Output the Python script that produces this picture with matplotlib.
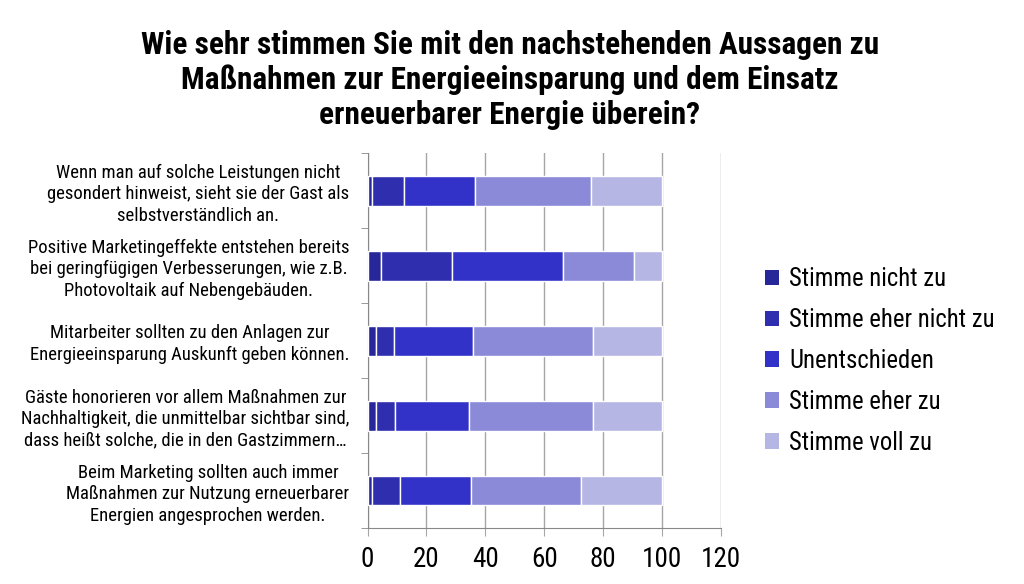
import numpy as np
import matplotlib
matplotlib.use('Agg')
import matplotlib.pyplot as plt
from matplotlib.patches import Patch

plt.rcParams['font.family'] = ['Roboto Condensed', 'DejaVu Sans Condensed', 'Liberation Sans Narrow',
                               'Open Sans Condensed', 'DejaVu Sans']
plt.rcParams['font.stretch'] = 'condensed'

statements = [
    'Wenn man auf solche Leistungen nicht\ngesondert hinweist, sieht sie der Gast als\nselbstverständlich an.',
    'Positive Marketingeffekte entstehen bereits\nbei geringfügigen Verbesserungen, wie z.B.\nPhotovoltaik auf Nebengebäuden.',
    'Mitarbeiter sollten zu den Anlagen zur\nEnergieeinsparung Auskunft geben können.',
    'Gäste honorieren vor allem Maßnahmen zur\nNachhaltigkeit, die unmittelbar sichtbar sind,\ndass heißt solche, die in den Gastzimmern…',
    'Beim Marketing sollten auch immer\nMaßnahmen zur Nutzung erneuerbarer\nEnergien angesprochen werden.',
]
answers = ['Stimme nicht zu', 'Stimme eher nicht zu', 'Unentschieden',
           'Stimme eher zu', 'Stimme voll zu']
# percent per statement, same order as answers
nicht_zu = [1.4, 4.5, 3.0, 3.0, 1.4]
eher_nicht_zu = [11.0, 24.0, 6.0, 6.2, 9.6]
unentschieden = [24.0, 37.9, 26.9, 25.2, 24.1]
eher_zu = [39.6, 24.0, 40.5, 42.0, 37.3]
voll_zu = [24.0, 9.6, 23.6, 23.6, 27.6]
colors = ['#27279a', '#2e2eae', '#3232c8', '#8a8ad8', '#b6b6e4']

series = [nicht_zu, eher_nicht_zu, unentschieden, eher_zu, voll_zu]

fig = plt.figure(figsize=(10.24, 5.84), dpi=100)
ax = fig.add_axes([0.359, 0.0959, 0.345, 0.642])

y = np.arange(len(statements))
left = np.zeros(len(statements))
for vals, col, name in zip(series, colors, answers):
    ax.barh(y, vals, left=left, height=0.4, color=col, edgecolor='white',
            linewidth=1, label=name, zorder=3)
    left += np.array(vals)

ax.set_xlim(0, 120)
ax.set_ylim(len(statements) - 0.5, -0.5)
ax.set_xticks(range(0, 121, 20))
ax.grid(axis='x', color='#a6a6a6', linewidth=1, zorder=0)
ax.set_yticks(y)
ax.set_yticklabels(statements, fontsize=13.4, linespacing=1.25)
for lbl in ax.get_yticklabels():
    lbl.set_multialignment('center')
ax.set_yticks(np.arange(-0.5, len(statements)), minor=True)
ax.tick_params(axis='y', which='major', length=0, pad=13)
ax.tick_params(axis='y', which='minor', length=5, color='#888888', direction='out')
ax.tick_params(axis='x', length=6, color='#a6a6a6', labelsize=19.5, pad=7)
for s in ['top', 'right']:
    ax.spines[s].set_visible(False)
ax.spines['left'].set_color('#888888')
ax.spines['bottom'].set_color('#888888')

handles = [Patch(facecolor=c, edgecolor='none') for c in colors]
fig.legend(handles, answers, loc='center left', bbox_to_anchor=(0.725, 0.382),
           frameon=False, fontsize=17.8, handlelength=0.6, handleheight=0.6,
           handletextpad=0.4, labelspacing=0.68)

fig.text(0.498, 0.863,
         'Wie sehr stimmen Sie mit den nachstehenden Aussagen zu\n'
         'Maßnahmen zur Energieeinsparung und dem Einsatz\n'
         'erneuerbarer Energie überein?',
         ha='center', va='center', fontsize=22.5, fontweight='bold', linespacing=1.2)

fig.savefig('out.png', dpi=100)
